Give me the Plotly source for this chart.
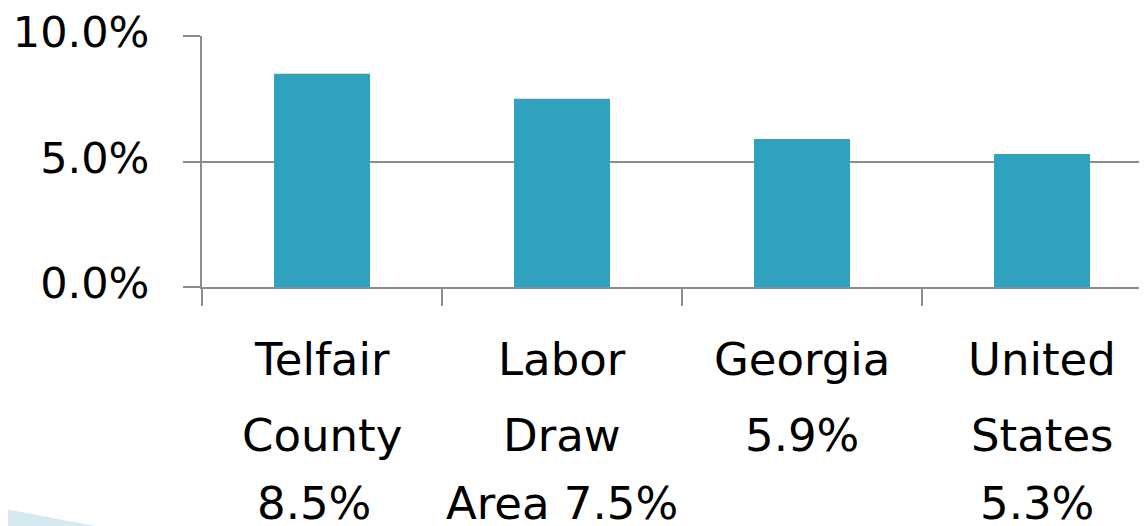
import plotly.graph_objects as go

# ---- data ----
categories = ["Telfair County", "Labor Draw Area", "Georgia", "United States"]
values = [8.5, 7.5, 5.9, 5.3]
label_lines = [
    ["Telfair", "County", "8.5%"],
    ["Labor", "Draw", "Area 7.5%"],
    ["Georgia", "5.9%"],
    ["United", "States", "5.3%"],
]
y_tickvals = [0, 5, 10]
y_ticktext = ["0.0%", "5.0%", "10.0%"]

# ---- layout geometry (pixels, page coordinates; page body has 8px margin) ----
OFF = 8
W, H = 1147 - OFF, 526 - OFF
L, T, B_PX = 202 - OFF, 36 - OFF, 287 - OFF
PLOT_H = B_PX - T
PLOT_W = W - L
CAT_W = 240.0
FONT = "DejaVu Sans"
GRAY = "#8c8c8c"


def py_to_paper(py):
    return (B_PX - (py - OFF)) / PLOT_H


def px_to_paper(px):
    return ((px - OFF) - L) / PLOT_W


fig = go.Figure()
fig.add_trace(go.Bar(
    x=categories, y=values, width=0.4,
    marker=dict(color="#2EA2BF", line=dict(width=0)),
    hoverinfo="skip",
))

# multi-line category labels (centres in page pixels)
line_centers = [359, 435, 503]
x_shifts = [[0, 0, -8], [0, 0, 0], [0, 0], [0, 0, -5]]
annotations = []
for ci, lines in enumerate(label_lines):
    for li, txt in enumerate(lines):
        annotations.append(dict(
            x=categories[ci], xref="x",
            y=py_to_paper(line_centers[li]), yref="paper",
            text=txt, showarrow=False,
            xanchor="center", yanchor="middle",
            xshift=x_shifts[ci][li],
            font=dict(family=FONT, size=45, color="#000000"),
        ))

# decorative light-blue wedge bottom-left
shapes = [dict(
    type="path", xref="paper", yref="paper",
    path="M {x0},{y0} L {x1},{y1} L {x0},{y1} Z".format(
        x0=px_to_paper(0), y0=py_to_paper(508),
        x1=px_to_paper(100), y1=py_to_paper(527)),
    fillcolor="#D6E8F0", line=dict(width=0), layer="below",
)]

fig.update_layout(
    width=W, height=H, autosize=False,
    margin=dict(l=L, r=0, t=T, b=H - B_PX, pad=0),
    paper_bgcolor="white", plot_bgcolor="white",
    showlegend=False,
    annotations=annotations, shapes=shapes,
    font=dict(family=FONT, color="#000000"),
)
fig.update_xaxes(
    type="category", automargin=False,
    range=[-0.5, -0.5 + PLOT_W / CAT_W],
    tickson="boundaries",
    ticks="outside", ticklen=17, tickwidth=2, tickcolor=GRAY,
    showticklabels=False,
    showgrid=False, zeroline=False,
    showline=True, linecolor=GRAY, linewidth=2,
)
fig.update_yaxes(
    automargin=False,
    range=[0, 10],
    tickmode="array", tickvals=y_tickvals, ticktext=y_ticktext,
    ticks="outside", ticklen=17, tickwidth=2, tickcolor=GRAY,
    ticklabelstandoff=25, ticklabelshift=-4,
    ticklabeloverflow="allow",
    tickfont=dict(family=FONT, size=43, color="#000000"),
    showgrid=True, gridcolor=GRAY, gridwidth=2,
    zeroline=False,
    showline=True, linecolor=GRAY, linewidth=2,
)

fig.write_html("out.html")
